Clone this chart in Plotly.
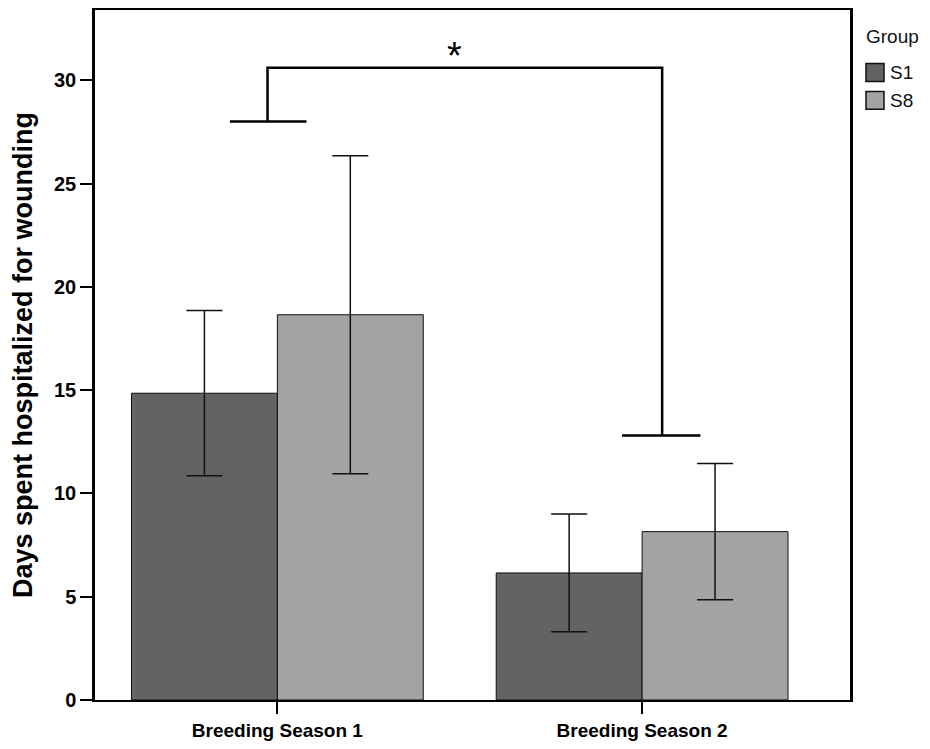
import plotly.graph_objects as go

categories = ["Breeding Season 1", "Breeding Season 2"]
groups = ["S1", "S8"]
means = {"S1": [14.85, 6.15], "S8": [18.65, 8.15]}
errors = {"S1": [4.0, 2.85], "S8": [7.7, 3.3]}
colors = {"S1": "#636363", "S8": "#a3a3a3"}
legend_title = "Group"

# significance bracket (category index units, y in days)
bracket_left_x = [-0.13, 0.08]
bracket_left_y = 28.0
bracket_right_x = [0.945, 1.16]
bracket_right_y = 12.8
bracket_top_y = 30.6
bracket_leg_x = [-0.027, 1.055]
star_pos = (0.487, 32.3)

W, H = 930, 749
ML, MR, MT, MB = 95, 80, 8, 46
PW, PH = W - ML - MR, H - MT - MB


def px(x):
    return (x - ML) / PW


def py(y):
    return (H - MB - y) / PH


fig = go.Figure()
for g in groups:
    fig.add_trace(go.Bar(
        x=[0, 1], y=means[g], name=g, showlegend=False,
        marker=dict(color=colors[g], line=dict(color="#111111", width=1)),
        error_y=dict(type="data", array=errors[g], visible=True,
                     color="#111111", thickness=1.5, width=18),
    ))

line_style = dict(color="black", width=2.5)
fig.add_shape(type="line", x0=bracket_left_x[0], x1=bracket_left_x[1],
              y0=bracket_left_y, y1=bracket_left_y, line=line_style)
fig.add_shape(type="line", x0=bracket_right_x[0], x1=bracket_right_x[1],
              y0=bracket_right_y, y1=bracket_right_y, line=line_style)
fig.add_shape(type="path",
              path=f"M {bracket_leg_x[0]},{bracket_left_y} L {bracket_leg_x[0]},{bracket_top_y} "
                   f"L {bracket_leg_x[1]},{bracket_top_y} L {bracket_leg_x[1]},{bracket_right_y}",
              line=line_style)
fig.add_annotation(x=star_pos[0], y=star_pos[1], text="*", showarrow=False,
                   yanchor="top",
                   font=dict(family="Liberation Sans, Arial", size=38, color="black"))

# manual legend (outside plot on the right)
fig.add_annotation(xref="paper", yref="paper", x=px(864), y=py(35), text=legend_title,
                   showarrow=False, xanchor="left", yanchor="middle",
                   font=dict(size=19, color="#111111"))
for i, g in enumerate(groups):
    cy = 71 + 28 * i
    fig.add_shape(type="rect", xref="paper", yref="paper",
                  x0=px(866), x1=px(884), y0=py(cy - 9), y1=py(cy + 9),
                  fillcolor=colors[g], line=dict(color="#111111", width=1.5))
    fig.add_annotation(xref="paper", yref="paper", x=px(888), y=py(cy), text=g,
                       showarrow=False, xanchor="left", yanchor="middle",
                       font=dict(size=19, color="#111111"))

fig.update_layout(
    width=W, height=H,
    margin=dict(l=ML, r=MR, t=MT, b=MB),
    paper_bgcolor="white", plot_bgcolor="white",
    barmode="group", bargap=0.2, bargroupgap=0,
    font=dict(family="Liberation Sans, Arial", color="black"),
    showlegend=False,
)
fig.update_xaxes(
    range=[-0.5, 1.57], tickmode="array", tickvals=[0, 1], ticktext=categories,
    showline=True, mirror=True, linecolor="black", linewidth=1.5,
    ticks="outside", ticklen=12, tickcolor="black", tickwidth=1.5,
    tickfont=dict(size=19, weight="bold"),
    showgrid=False, zeroline=False,
)
fig.update_yaxes(
    range=[0, 33.4], tickvals=[0, 5, 10, 15, 20, 25, 30],
    showline=True, mirror=True, linecolor="black", linewidth=2.5,
    ticks="outside", ticklen=12, tickcolor="black", tickwidth=1.5,
    tickfont=dict(size=20, weight="bold"),
    title=dict(text="Days spent hospitalized for wounding", font=dict(size=27, weight="bold"), standoff=14),
    showgrid=False, zeroline=False,
)

fig.write_html("out.html")
